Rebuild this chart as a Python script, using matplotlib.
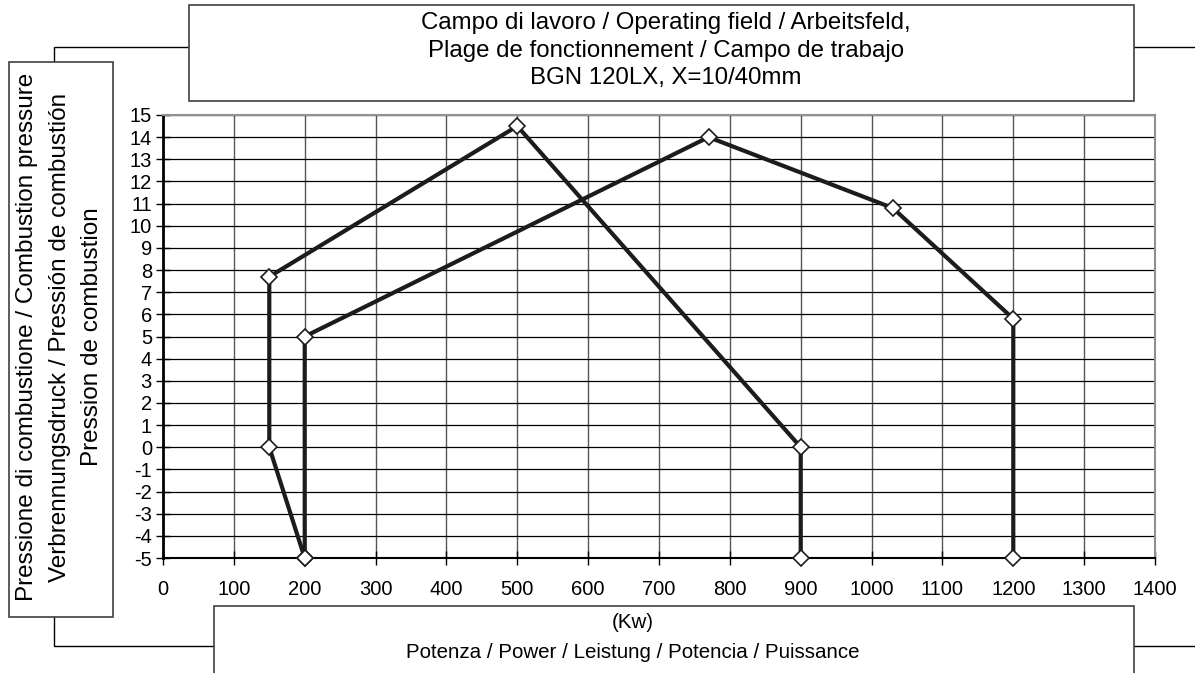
import matplotlib
matplotlib.use("Agg")
import matplotlib.pyplot as plt
from matplotlib.patches import Rectangle

plt.rcParams["font.family"] = ["Liberation Sans", "DejaVu Sans"]
plt.rcParams["axes.unicode_minus"] = False

# operating field curves (power kW, combustion pressure mbar)
power_min = [200, 150, 150, 500, 900, 900]
pressure_min = [-5, 0, 7.7, 14.5, 0, -5]
power_max = [200, 200, 770, 1030, 1200, 1200]
pressure_max = [-5, 5, 14, 10.8, 5.8, -5]

x_ticks = list(range(0, 1401, 100))
y_ticks = list(range(-5, 16))

title_lines = [
    "Campo di lavoro / Operating field / Arbeitsfeld,",
    "Plage de fonctionnement / Campo de trabajo",
    "BGN 120LX, X=10/40mm",
]
ylabel_lines = [
    "Pressione di combustione / Combustion pressure",
    "Verbrennungsdruck / Pressión de combustión",
    "Pression de combustion",
]
xlabel_lines = ["(Kw)", "Potenza / Power / Leistung / Potencia / Puissance"]

W, H = 1195, 673
fig = plt.figure(figsize=(W / 100, H / 100), dpi=100)


def fx(x):
    return x / W


def fy(y):
    return 1 - y / H


ax = fig.add_axes([fx(163), fy(558), (1155 - 163) / W, (558 - 115) / H])

for xs, ys in [(power_min, pressure_min), (power_max, pressure_max)]:
    ax.plot(xs, ys, color="#1c1c1c", lw=3, marker="D", ms=8.5,
            mfc="white", mec="#1c1c1c", mew=1.2, clip_on=False, zorder=5)

ax.set_xlim(0, 1400)
ax.set_ylim(-5, 15)
ax.set_xticks(x_ticks)
ax.set_yticks(y_ticks)
ax.tick_params(axis="both", direction="inout", length=10, width=1, labelsize=14.5)
ax.tick_params(axis="x", pad=11)
ax.tick_params(axis="y", pad=3)
for gx in x_ticks[1:]:
    ax.axvline(gx, color="#555555", lw=1, zorder=1)
for gy in y_ticks[1:]:
    ax.axhline(gy, color="black", lw=0.9, zorder=1)
ax.spines["left"].set_linewidth(2)
ax.spines["bottom"].set_linewidth(1.5)
for s in ["top", "right"]:
    ax.spines[s].set_color("#909090")
    ax.spines[s].set_linewidth(1.5)

# outer connector frame
fig.add_artist(Rectangle((fx(54), fy(646)), fx(1250 - 54), (646 - 47) / H,
                         transform=fig.transFigure, fill=False, ec="black", lw=1,
                         zorder=1))

boxes = [(189, 5, 1134, 101), (9, 62, 113, 617), (214, 606, 1134, 700)]
for x0, y0, x1, y1 in boxes:
    fig.add_artist(Rectangle((fx(x0), fy(y1)), (x1 - x0) / W, (y1 - y0) / H,
                             transform=fig.transFigure, fc="white", ec="#404040",
                             lw=1.2, zorder=2))

for txt, y in zip(title_lines, [23, 51, 78]):
    fig.text(fx(666), fy(y), txt, ha="center", va="center", fontsize=17.3, zorder=3)

for txt, x in zip(ylabel_lines, [27, 60, 92]):
    fig.text(fx(x), fy(337), txt, ha="center", va="center", rotation=90,
             fontsize=17.5, zorder=3)

for txt, y in zip(xlabel_lines, [622, 652]):
    fig.text(fx(633), fy(y), txt, ha="center", va="center", fontsize=14.8, zorder=3)

fig.savefig("out.png", dpi=100)
